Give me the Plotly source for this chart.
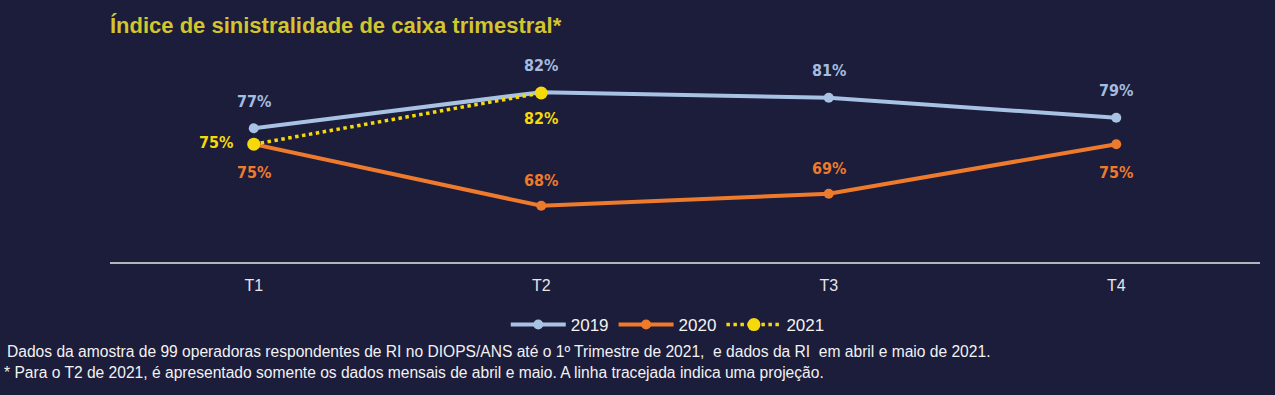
import plotly.graph_objects as go

quarters = ["T1", "T2", "T3", "T4"]
v2019 = [77.3, 81.8, 81.1, 78.6]
v2020 = [75.3, 67.6, 69.1, 75.3]
q2021 = ["T1", "T2"]
v2021 = [75.3, 81.7]

BG = "#1c1c3b"
C19 = "#a8c2e4"
C20 = "#ee7a2c"
C21 = "#f5d90a"
FONT = "DejaVu Sans Condensed, Liberation Sans, Arial, sans-serif"
FONT2 = "Liberation Sans, Arial, sans-serif"

fig = go.Figure()
fig.add_trace(go.Scatter(x=quarters, y=v2019, name="2019", mode="lines+markers",
                         line=dict(color=C19, width=4), marker=dict(size=10, color=C19)))
fig.add_trace(go.Scatter(x=quarters, y=v2020, name="2020", mode="lines+markers",
                         line=dict(color=C20, width=4), marker=dict(size=10, color=C20)))
fig.add_trace(go.Scatter(x=q2021, y=v2021, name="2021", mode="lines+markers",
                         line=dict(color=C21, width=3.5, dash="dot"), marker=dict(size=13, color=C21)))

ann = []
lab_font = dict(family=FONT, size=16)
for q, v in zip(quarters, v2019):
    ann.append(dict(x=q, y=v, text=f"<b>{round(v)}%</b>", showarrow=False, yshift=27,
                    font=dict(color="#a3bcdf", **lab_font)))
shifts20 = [-28, 25, 25, -28]
for q, v, s in zip(quarters, v2020, shifts20):
    ann.append(dict(x=q, y=v, text=f"<b>{round(v)}%</b>", showarrow=False, yshift=s,
                    font=dict(color=C20, **lab_font)))
ann.append(dict(x=q2021[0], y=v2021[0], text=f"<b>{round(v2021[0])}%</b>", showarrow=False,
                xshift=-38, yshift=2, font=dict(color=C21, **lab_font)))
ann.append(dict(x=q2021[1], y=v2021[1], text=f"<b>{round(v2021[1])}%</b>", showarrow=False,
                yshift=-25, font=dict(color=C21, **lab_font)))

foot_font = dict(family=FONT2, size=15.6, color="#f2f2f2")
ann.append(dict(xref="paper", yref="paper", x=-0.0913, y=-0.4455, xanchor="left", yanchor="middle",
                showarrow=False, font=foot_font,
                text="Dados da amostra de 99 operadoras respondentes de RI no DIOPS/ANS até o 1º Trimestre de 2021,  e dados da RI  em abril e maio de 2021."))
ann.append(dict(xref="paper", yref="paper", x=-0.0935, y=-0.5446, xanchor="left", yanchor="middle",
                showarrow=False, font=foot_font,
                text="* Para o T2 de 2021, é apresentado somente os dados mensais de abril e maio. A linha tracejada indica uma projeção."))

fig.update_layout(
    width=1275, height=395,
    paper_bgcolor=BG, plot_bgcolor=BG,
    margin=dict(l=110, r=15, t=60, b=133),
    title=dict(text="<b>Índice de sinistralidade de caixa trimestral*</b>",
               x=110 / 1275, xref="container", xanchor="left",
               y=1 - 25 / 395, yref="container", yanchor="middle",
               font=dict(family=FONT2, size=22, color="#d3c52c")),
    xaxis=dict(type="category", range=[-0.5, 3.5], showgrid=False, zeroline=False,
               showline=True, linecolor="#b4b4bc", linewidth=2, ticks="",
               ticklabelstandoff=8,
               tickfont=dict(family=FONT2, size=16, color="#e6e6e6")),
    yaxis=dict(range=[60.575, 85.825], visible=False, showgrid=False, zeroline=False),
    showlegend=True,
    legend=dict(orientation="h", x=0.485, xanchor="center", y=-0.312, yanchor="middle",
                font=dict(family=FONT2, size=17, color="#f2f2f2"), itemwidth=55,
                bgcolor="rgba(0,0,0,0)"),
    annotations=ann,
)

fig.write_html("out.html", config={"displayModeBar": False},
               post_script="document.body.style.margin='0';")
